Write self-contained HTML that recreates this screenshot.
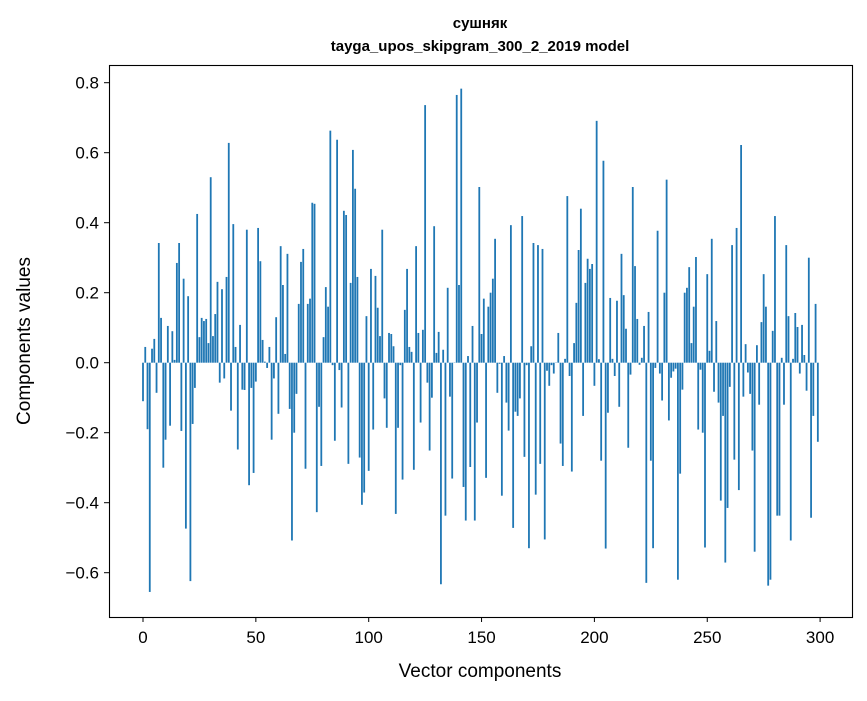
<!DOCTYPE html>
<html><head><meta charset="utf-8"><style>
body{margin:0;background:#fff}
svg text{font-family:"Liberation Sans","DejaVu Sans",sans-serif}
</style></head><body>
<svg id="chart" width="867" height="696" xmlns="http://www.w3.org/2000/svg">
<rect width="867" height="696" fill="#fff"/>
<text x="480" y="28" text-anchor="middle" font-size="15" font-weight="bold">сушняк</text>
<text x="480" y="51" text-anchor="middle" font-size="15" font-weight="bold">tayga_upos_skipgram_300_2_2019 model</text>
<g id="bars"></g>
<g id="axes"></g>
<rect x="109.5" y="65.5" width="743" height="552" fill="none" stroke="#000" stroke-width="1.1"/>
<text x="480" y="677" text-anchor="middle" font-size="19">Vector components</text>
<text transform="translate(30,341) rotate(-90)" text-anchor="middle" font-size="19">Components values</text>
</svg>
<script>
const values = [-0.11,0.045,-0.19,-0.655,0.04,0.068,-0.086,0.342,0.128,-0.30,
-0.22,0.105,-0.18,0.09,0.008,0.285,0.342,-0.195,0.24,-0.474,
0.19,-0.624,-0.175,-0.072,0.425,0.073,0.128,0.119,0.125,0.056,
0.53,0.076,0.139,0.231,-0.057,0.21,-0.045,0.245,0.628,-0.137,
0.396,0.045,-0.248,0.108,-0.077,-0.078,0.38,-0.35,-0.072,-0.315,
-0.054,0.385,0.29,0.065,0.003,-0.015,0.045,-0.22,-0.045,0.13,
-0.146,0.333,0.222,0.025,0.311,-0.132,-0.508,-0.2,-0.089,0.168,
0.288,0.325,-0.303,0.168,0.183,0.457,0.454,-0.427,-0.126,-0.295,
0.073,0.216,0.16,0.663,-0.007,-0.223,0.637,-0.021,-0.128,0.434,
0.422,-0.289,0.228,0.608,0.497,0.245,-0.271,-0.406,-0.371,0.133,
-0.309,0.268,-0.191,0.248,0.157,0.076,0.38,-0.102,-0.186,0.085,
0.082,0.047,-0.432,-0.186,-0.007,-0.334,0.151,0.268,0.045,0.031,
-0.306,0.333,0.085,-0.171,0.094,0.736,-0.057,-0.251,-0.1,0.39,
0.028,0.088,-0.633,0.037,-0.437,0.214,-0.097,-0.331,0.0,0.765,
0.222,0.783,-0.355,-0.451,0.019,-0.298,0.105,-0.451,-0.171,0.502,
0.082,0.183,-0.329,0.16,0.2,0.24,0.354,-0.086,-0.003,-0.38,
0.019,-0.114,-0.194,0.393,-0.472,-0.14,-0.152,-0.102,0.419,-0.269,
-0.007,-0.53,0.047,0.342,-0.377,0.336,-0.289,0.325,-0.505,-0.023,
-0.066,-0.007,-0.031,0.0,0.085,-0.231,-0.295,0.011,0.476,-0.038,
-0.311,0.056,0.171,0.322,0.44,-0.152,0.228,0.297,0.268,0.282,
-0.066,0.691,0.01,-0.28,0.577,-0.531,-0.143,0.185,0.011,-0.038,
0.177,-0.126,0.311,0.193,0.097,-0.243,-0.034,0.502,0.276,0.125,
-0.006,0.014,0.105,-0.629,0.145,-0.28,-0.53,-0.015,0.377,-0.031,
-0.108,0.2,0.523,-0.165,-0.043,-0.025,-0.017,-0.62,-0.317,-0.077,
0.2,0.214,0.273,0.056,0.16,0.302,-0.191,-0.02,-0.2,-0.528,
0.253,0.034,0.354,-0.083,0.119,-0.114,-0.394,-0.152,-0.571,-0.415,
-0.069,0.336,-0.277,0.385,-0.364,0.622,-0.097,0.053,-0.028,-0.089,
-0.251,-0.54,0.05,-0.12,0.116,0.253,0.16,-0.637,-0.62,0.091,
0.419,-0.437,-0.437,0.014,-0.12,0.336,0.133,-0.508,0.011,0.142,
0.102,-0.031,0.108,0.022,-0.08,0.3,-0.443,-0.152,0.168,-0.226];
const xTicks = [0,50,100,150,200,250,300];
const yTicks = [-0.6,-0.4,-0.2,0.0,0.2,0.4,0.6,0.8];
const yTickLabels = ["\u22120.6","\u22120.4","\u22120.2","0.0","0.2","0.4","0.6","0.8"];

const NS="http://www.w3.org/2000/svg";
function xs(i){return 143+2.257*i;}
function ys(v){return 362.7-350*v;}
const bars=document.getElementById('bars');
values.forEach((v,i)=>{
  const r=document.createElementNS(NS,'rect');
  const y0=ys(0), y1=ys(v);
  r.setAttribute('x',xs(i)-0.9);
  r.setAttribute('width',1.8);
  r.setAttribute('y',Math.min(y0,y1));
  r.setAttribute('height',Math.max(Math.abs(y1-y0),0.3));
  r.setAttribute('fill','#1f77b4');
  
  
  bars.appendChild(r);
});
const axes=document.getElementById('axes');
xTicks.forEach(t=>{
  const l=document.createElementNS(NS,'line');
  l.setAttribute('x1',xs(t));l.setAttribute('x2',xs(t));
  l.setAttribute('y1',617);l.setAttribute('y2',622);
  l.setAttribute('stroke','#000');
  
  
  axes.appendChild(l);
  const tx=document.createElementNS(NS,'text');
  tx.setAttribute('x',xs(t));tx.setAttribute('y',643);
  tx.setAttribute('text-anchor','middle');tx.setAttribute('font-size','17');
  tx.textContent=t;
  
  
  axes.appendChild(tx);
});
yTicks.forEach((t,k)=>{
  const l=document.createElementNS(NS,'line');
  l.setAttribute('x1',104);l.setAttribute('x2',109);
  l.setAttribute('y1',ys(t));l.setAttribute('y2',ys(t));
  l.setAttribute('stroke','#000');
  
  
  axes.appendChild(l);
  const tx=document.createElementNS(NS,'text');
  tx.setAttribute('x',99);tx.setAttribute('y',ys(t)+6);
  tx.setAttribute('text-anchor','end');tx.setAttribute('font-size','17');
  tx.textContent=yTickLabels[k];
  
  
  axes.appendChild(tx);
});
</script>
</body></html>
